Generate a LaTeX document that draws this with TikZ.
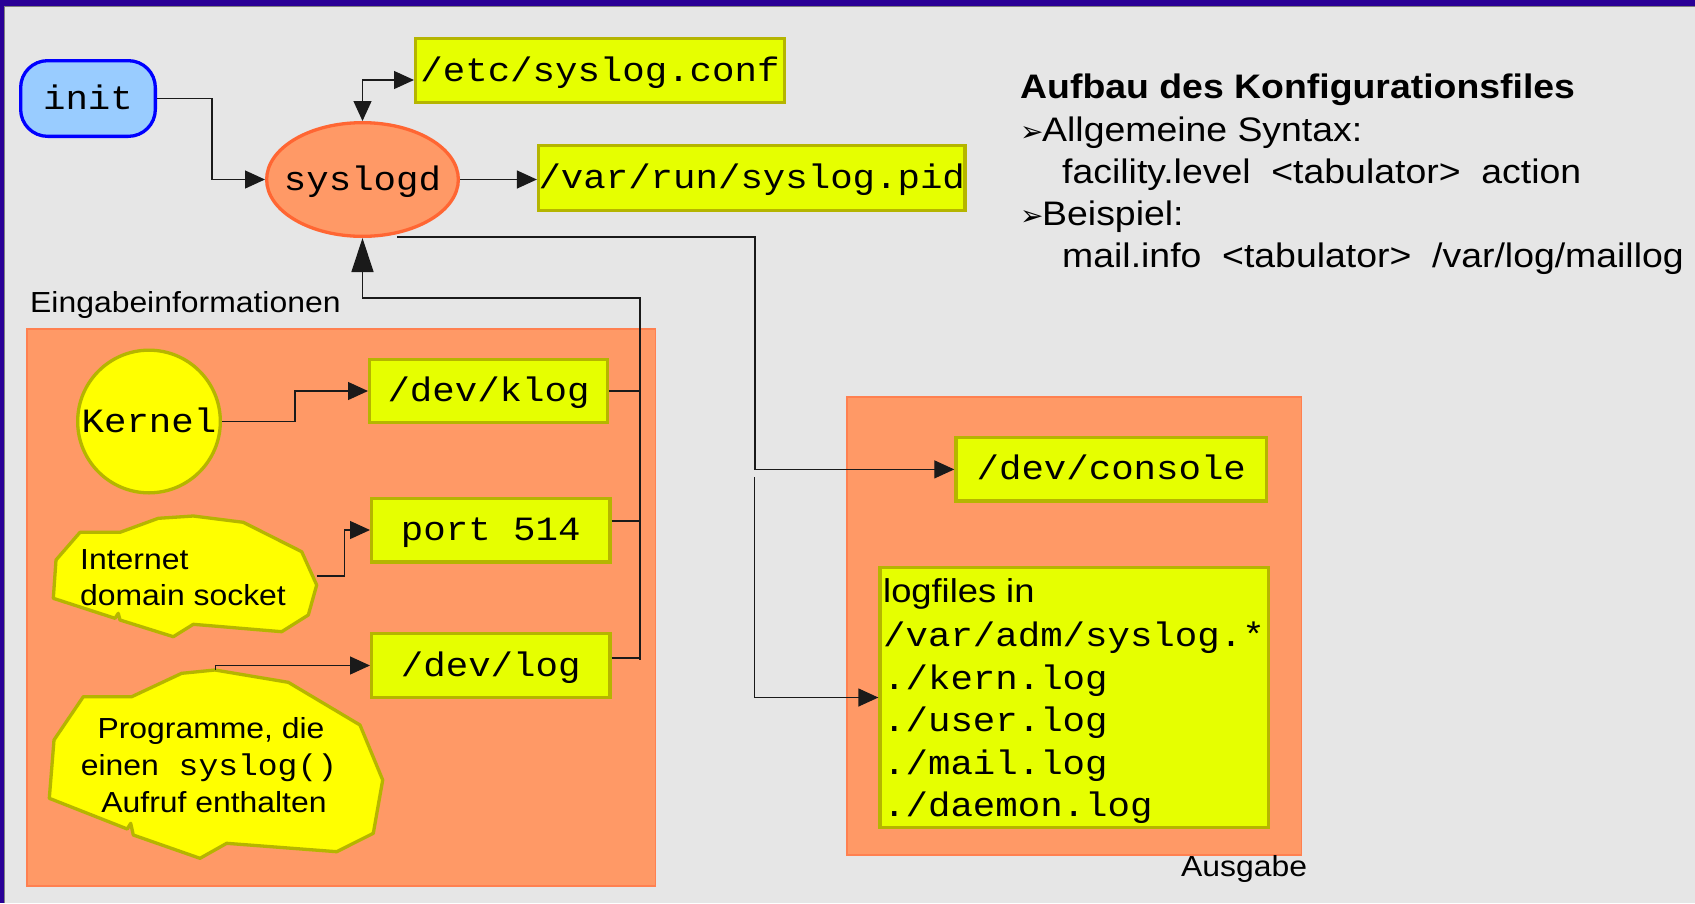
\documentclass[tikz,border=0pt]{standalone}
\usepackage{fontspec}
\setmainfont{Liberation Sans}[FakeStretch=1.1]
\setmonofont{Liberation Mono}[FakeStretch=1.1]
\newfontfamily\bulletfont{DejaVu Sans}
\usetikzlibrary{arrows.meta,shapes.geometric}

\definecolor{bg}{HTML}{E6E6E6}
\definecolor{barblue}{HTML}{2A0096}
\definecolor{boxfill}{HTML}{E6FF00}
\definecolor{boxline}{HTML}{B5B500}
\definecolor{yel}{HTML}{FFFF00}
\definecolor{orangefill}{HTML}{FF9966}
\definecolor{orangeline}{HTML}{FF8050}
\definecolor{ellline}{HTML}{FF6633}
\definecolor{initfill}{HTML}{99CCFF}
\definecolor{initline}{HTML}{0000FF}
\definecolor{wirecol}{HTML}{1A1A1A}

\newcommand{\notebullet}{\makebox[22pt][l]{\bulletfont\fontsize{28}{28}\selectfont ➢}}

\begin{document}
\begin{tikzpicture}[x=1pt,y=-1pt,
  every node/.style={inner sep=0pt},
  mono/.style={font=\fontsize{34}{40}\selectfont\ttfamily, text height=27pt, text depth=6pt},
  monoline/.style={font=\fontsize{34}{40}\selectfont\ttfamily, anchor=base west},
  filebox/.style={mono, draw=boxline, fill=boxfill, line width=3.3pt},
  groupbox/.style={fill=orangefill, draw=orangeline, line width=1.2pt},
  blob/.style={fill=yel, draw=boxline, line width=3.3pt, line join=round},
  wire/.style={draw=wirecol, line width=1.3pt},
  arr/.style={wire, -{Triangle[length=20pt,width=18pt]}},
  dblarr/.style={wire, {Triangle[length=20pt,width=18pt]}-{Triangle[length=20pt,width=18pt]}},
  bigarr/.style={wire, -{Triangle[length=34pt,width=22pt]}},
  lbl/.style={font=\fontsize{29}{36}\selectfont, anchor=base west},
  ctext/.style={font=\fontsize{29}{36}\selectfont, anchor=base},
  info/.style={font=\fontsize{34}{42}\selectfont, anchor=base west}
]
\useasboundingbox (0,0) rectangle (1695,903);

% slide background and frame bars
\fill[bg] (0,0) rectangle (1695,903);
\fill[barblue] (0,0) rectangle (1695,6);
\fill[barblue] (0,0) rectangle (4,903);
\draw[gray, line width=1pt] (4.5,903) -- (4.5,6.5) -- (1695,6.5);

% input and output groups
\draw[groupbox] (27,329) rectangle (655.5,886);
\draw[groupbox] (847,397) rectangle (1301.5,855);
\node[lbl] (inlabel) at (30,312) {Eingabeinformationen};
\node[lbl] (outlabel) at (1181,876) {Ausgabe};

% message sources
\node[mono, circle, draw=boxline, fill=yel, line width=3.3pt, minimum size=142.7pt] (kernel) at (149,421.5) {Kernel};

\draw[blob] (80,532.3) -- (120,532.3) -- (158.3,518.3) -- (193.3,516) -- (243.3,522.3)
  -- (301.7,551.7) -- (316.7,585) -- (308.3,615) -- (281.7,631.7) -- (193.3,624.3)
  -- (173.3,636.7) -- (120,620) -- (118.3,613.3) -- (115,618.3) -- (53.3,598.3)
  -- (56,560) -- cycle;
\node[lbl] (inet1) at (80,569) {Internet};
\node[lbl] (inet2) at (80,605) {domain socket};

\draw[blob] (83.3,696.7) -- (131.7,696.7) -- (181.7,673.3) -- (215,670) -- (288.3,682.3)
  -- (360,725) -- (382.7,780) -- (373.3,833.3) -- (336.7,851.7) -- (226.7,843.3)
  -- (200,858.3) -- (133.3,835) -- (130.7,823.3) -- (127.3,829) -- (49.3,798.3)
  -- (54,740) -- cycle;
\node[ctext] (prog1) at (211,738) {Programme, die};
\node[ctext] (prog2) at (209,775) {einen{\ttfamily\fontsize{30}{36}\selectfont\ syslog()}};
\node[ctext] (prog3) at (214,812) {Aufruf enthalten};

% daemon and files
\node[mono, draw=initline, fill=initfill, line width=3.3pt, rounded corners=27pt,
      minimum width=134.7pt, minimum height=75.7pt] (init) at (88,98.5) {init};
\node[ellipse, draw=ellline, fill=orangefill, line width=3.3pt,
      minimum width=191.7pt, minimum height=113.7pt,
      label={[mono]center:syslogd}] (syslogd) at (362.5,179.5) {};

\node[filebox, minimum width=368.7pt, minimum height=63.7pt] (etcconf) at (600,70.5) {/etc/syslog.conf};
\node[filebox, minimum width=425.2pt, minimum height=64.7pt] (pid) at (751.75,178) {/var/run/syslog.pid};
\node[filebox, minimum width=237.7pt, minimum height=62.7pt] (klog) at (488.5,391) {/dev/klog};
\node[filebox, minimum width=238.2pt, minimum height=63.7pt] (port) at (490.75,530) {port 514};
\node[filebox, minimum width=238.2pt, minimum height=63.7pt] (devlog) at (490.75,665.5) {/dev/log};
\node[filebox, minimum width=310.7pt, minimum height=63.4pt] (console) at (1111.3,469.4) {/dev/console};
\node[filebox, minimum width=388.4pt, minimum height=260.3pt] (logbox) at (1074.2,697.5) {};

\node[font=\fontsize{33}{40}\selectfont, anchor=base west] (lf1) at (883,602) {logfiles in};
\node[monoline] (lf2) at (883,646) {/var/adm/syslog.*};
\node[monoline] (lf3) at (883,689) {./kern.log};
\node[monoline] (lf4) at (883,731) {./user.log};
\node[monoline] (lf5) at (883,774) {./mail.log};
\node[monoline] (lf6) at (883,816) {./daemon.log};

% configuration notes
\node[info] (h1) at (1020,98) {\bfseries Aufbau des Konfigurationsfiles};
\node[info] (h2) at (1020,141) {\notebullet Allgemeine Syntax:};
\node[info] (h3) at (1062,183) {facility.level\ \ <tabulator>\ \ action};
\node[info] (h4) at (1020,225) {\notebullet Beispiel:};
\node[info] (h5) at (1062,267) {mail.info\ \ <tabulator>\ \ /var/log/maillog};

% connectors
\coordinate (bus) at (640,0);
\coordinate (bustop) at (640,383);
\coordinate (busbot) at (640,660);
\coordinate (inbend) at (640,298);
\coordinate (outstart) at (397,237);
\coordinate (outbend) at (755,237);
\coordinate (outsplit) at (754.5,477);
\coordinate (inetout) at (316.5,576);
\coordinate (progout) at (215.7,670);

\draw[arr] (init.east) -- ++(55,0) |- (syslogd.west);
\draw[dblarr] (syslogd.north) |- ([yshift=-9.5pt]etcconf.west);
\draw[arr] (syslogd.east) -- (syslogd.east -| pid.west);

\draw[arr] (kernel.east) -- ++(73,0) |- (klog.west);
\draw[arr] (inetout) -- ++(28,0) |- (port.west);
\draw[arr] (progout) |- (devlog.west);

\draw[wire] (klog.east) -- (klog.east -| bus);
\draw[wire] ([yshift=9pt]port.east) -- ([yshift=9pt]port.east -| bus);
\draw[wire] ([yshift=7.5pt]devlog.east) -- ([yshift=7.5pt]devlog.east -| bus);
\draw[wire] (bustop) -- (busbot);
\draw[bigarr] (klog.east -| bus) -- (inbend) -| (syslogd.south);

\draw[arr] (outstart) -- (outbend) |- (console.west);
\draw[arr] (outsplit) |- (logbox.west);
\end{tikzpicture}
\end{document}
